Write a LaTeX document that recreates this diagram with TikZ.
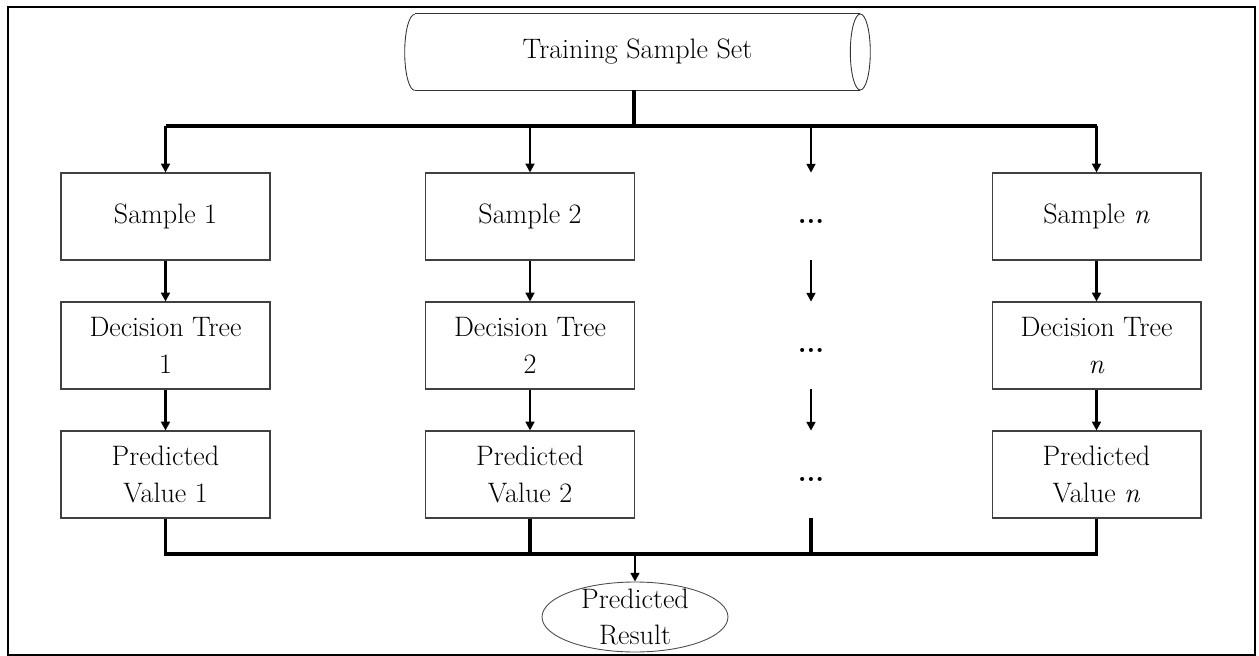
\documentclass[tikz,border=0pt]{standalone}
\usepackage{tikz}
\usetikzlibrary{arrows.meta,shapes.geometric}
\def\drawbus{\draw[bus]}
\def\drawflow{\draw[flow]}
\def\stepnode{\node[stepbox]}
\def\gapnode{\node[gapbox]}

\begin{document}
\begin{tikzpicture}[x=0.02cm,y=-0.02cm,
  txt/.style={font=\fontsize{16}{21}\selectfont},
  stepbox/.style={txt,draw=black!75,line width=0.6pt,minimum width=4.18cm,minimum height=1.74cm,align=center},
  gapbox/.style={minimum width=4.18cm,minimum height=1.74cm,text height=0.85em,text depth=0pt,font=\fontsize{16}{21}\selectfont\bfseries},
  rim/.style={draw=black!80,line width=0.5pt},
  bus/.style={line width=2pt},
  flow/.style={line width=1.2pt,-{Triangle[length=5pt,width=5pt]}}]
\useasboundingbox (0,0) rectangle (1259,656);
\draw[line width=1.2pt] (8,7) rectangle (1255,655);
% source, a lying cylinder
\node[txt,minimum width=8.9cm,minimum height=1.52cm,inner sep=0pt] (tss) at (637.5,52) {Training Sample Set};
\draw[rim] (tss.north west) -- (tss.north east) (tss.south west) -- (tss.south east);
\draw[rim] (tss.south west) arc[start angle=270,end angle=90,x radius=0.2cm,y radius=0.76cm];
\draw[rim] (tss.east) ellipse[x radius=0.2cm,y radius=0.76cm];
% columns
\stepnode (s1) at (165.5,216.5) {Sample 1};
\stepnode (t1) at (165.5,345.5) {Decision Tree\\1};
\stepnode (p1) at (165.5,474.5) {Predicted\\Value 1};
\stepnode (s2) at (530,216.5) {Sample 2};
\stepnode (t2) at (530,345.5) {Decision Tree\\2};
\stepnode (p2) at (530,474.5) {Predicted\\Value 2};
\gapnode (d1) at (811,216.5) {...};
\gapnode (d2) at (811,345.5) {...};
\gapnode (d3) at (811,474.5) {...};
\stepnode (sn) at (1096.5,216.5) {Sample \textit{n}};
\stepnode (tn) at (1096.5,345.5) {Decision Tree\\\textit{n}};
\stepnode (pn) at (1096.5,474.5) {Predicted\\Value \textit{n}};
% result
\node[ellipse,draw=black!70,line width=0.5pt,minimum width=3.72cm,minimum height=1.4cm,inner sep=0pt] (res) at (635,617) {};
\node[txt,align=center] at (res) {Predicted\\Result};
% top bus
\coordinate (top) at (634,126);
\drawbus (tss.south -| top) -- (top);
\drawbus (s1.north |- top) -- (sn.north |- top);
\foreach \c in {s1,s2,d1,sn} \drawflow (\c.north |- top) -- (\c.north);
\foreach \a/\b in {s1/t1,t1/p1,s2/t2,t2/p2,d1/d2,d2/d3,sn/tn,tn/pn} \drawflow (\a) -- (\b);
% bottom bus
\coordinate (bot) at (635,554);
\drawbus (p1.south) |- (pn.south |- bot) -- (pn.south);
\drawbus (p2.south) -- (p2.south |- bot);
\drawbus (d3.south) -- (d3.south |- bot);
\drawflow (bot) -- (res.north);
\end{tikzpicture}
\end{document}
